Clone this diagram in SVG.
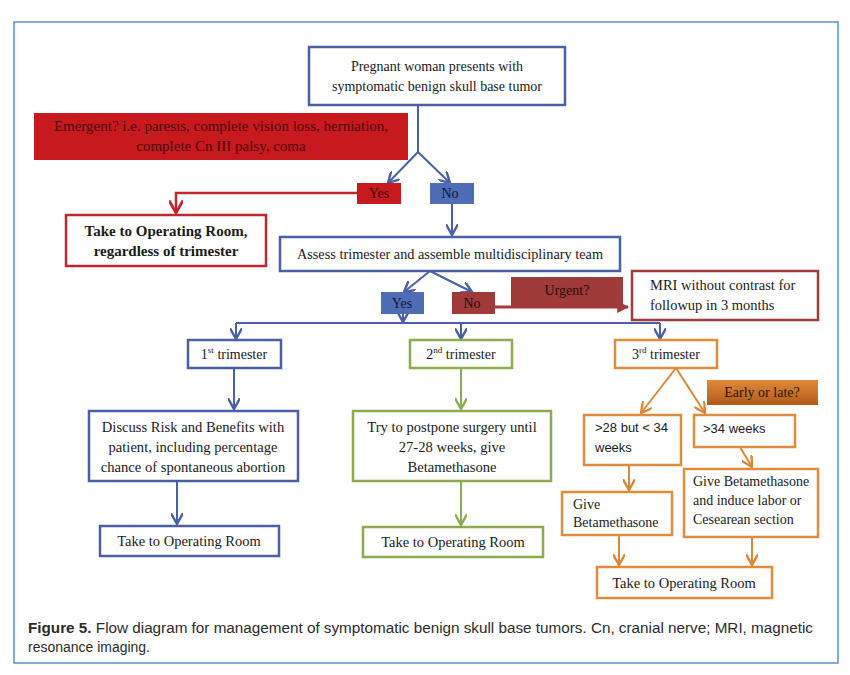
<svg xmlns="http://www.w3.org/2000/svg" width="850" height="675" viewBox="0 0 850 675">
<defs>
<style>
.t{font-family:"Liberation Serif","Times New Roman",serif;font-size:14px;fill:#1a1a1a}
.s{font-family:"Liberation Sans",Arial,sans-serif;font-size:13px;fill:#1a1a1a}
.c{text-anchor:middle}
.bl{fill:#fff;stroke:#4a5fa6;stroke-width:2.5}
.rd{fill:#fff;stroke:#c1272d;stroke-width:2.5}
.gr{fill:#fff;stroke:#8cab4f;stroke-width:2.5}
.or{fill:#fff;stroke:#df8c3e;stroke-width:2.5}
.lb{stroke:#4a5fa6;stroke-width:2;fill:none}
.lr{stroke:#c1272d;stroke-width:2.5;fill:none}
.lg{stroke:#8cab4f;stroke-width:2;fill:none}
.lo{stroke:#d9873a;stroke-width:2;fill:none}
.ld{stroke:#a33a3a;stroke-width:3;fill:none}
</style>
<marker id="ar" viewBox="0 0 10 10" refX="9" refY="5" markerWidth="14" markerHeight="14" orient="auto" markerUnits="userSpaceOnUse"><path d="M0,0 L9,5 L0,10" fill="none" stroke="#c1272d" stroke-width="2"/></marker>
<marker id="ab2" viewBox="0 0 10 10" refX="9" refY="5" markerWidth="12" markerHeight="12" orient="auto" markerUnits="userSpaceOnUse"><path d="M0,0 L9,5 L0,10" fill="none" stroke="#4a5fa6" stroke-width="2"/></marker>
<marker id="ag" viewBox="0 0 10 10" refX="9" refY="5" markerWidth="12" markerHeight="12" orient="auto" markerUnits="userSpaceOnUse"><path d="M0,0 L9,5 L0,10" fill="none" stroke="#8cab4f" stroke-width="2"/></marker>
<marker id="ao" viewBox="0 0 10 10" refX="9" refY="5" markerWidth="12" markerHeight="12" orient="auto" markerUnits="userSpaceOnUse"><path d="M0,0 L9,5 L0,10" fill="none" stroke="#d9873a" stroke-width="2"/></marker>
<marker id="ad" viewBox="0 0 10 10" refX="9" refY="5" markerWidth="12" markerHeight="12" orient="auto" markerUnits="userSpaceOnUse"><path d="M0,0 L10,5 L0,10 Z" fill="#a33a3a"/></marker>
<linearGradient id="og" x1="0" y1="0" x2="0" y2="1"><stop offset="0" stop-color="#e08a3a"/><stop offset="1" stop-color="#b05a1a"/></linearGradient>
</defs>
<rect x="0" y="0" width="850" height="675" fill="#fff"/>
<rect x="14" y="22" width="824" height="641" fill="none" stroke="#5b8ecb" stroke-width="1.5"/>

<g id="connectors">
<path class="lb" d="M418,105 V152 L450,183" marker-end="url(#ab2)"/>
<path class="lb" d="M418,152 L388,183" marker-end="url(#ab2)"/>
<path class="lr" d="M357,193 H176 V213" marker-end="url(#ar)"/>
<path class="lb" d="M452,204 V235" marker-end="url(#ab2)"/>
<path class="lb" d="M430,271 L404,292" marker-end="url(#ab2)"/>
<path class="lb" d="M430,271 L472,292" marker-end="url(#ab2)"/>
<path class="ld" d="M495,307 H628" marker-end="url(#ad)"/>
<path class="lb" d="M403,314 V322" marker-end="url(#ab2)"/>
<path class="lb" d="M236,323 H660"/>
<path class="lb" d="M236,323 V339" marker-end="url(#ab2)"/>
<path class="lb" d="M461,323 V339" marker-end="url(#ab2)"/>
<path class="lb" d="M660,323 V339" marker-end="url(#ab2)"/>
<path class="lb" d="M234,368 V409" marker-end="url(#ab2)" stroke-width="2.5"/>
<path class="lb" d="M177,481 V524" marker-end="url(#ab2)" stroke-width="2.5"/>
<path class="lg" d="M461,368 V409" marker-end="url(#ag)"/>
<path class="lg" d="M461,481 V525" marker-end="url(#ag)"/>
<path class="lo" d="M676,368 L641,413" marker-end="url(#ao)"/>
<path class="lo" d="M676,368 L705,413" marker-end="url(#ao)"/>
<path class="lo" d="M629,465 V490" marker-end="url(#ao)"/>
<path class="lo" d="M740,447 L752,467" marker-end="url(#ao)"/>
<path class="lo" d="M619,535 V565" marker-end="url(#ao)"/>
<path class="lo" d="M752,537 V565" marker-end="url(#ao)"/>
</g>

<g id="n_start">
<rect class="bl" x="309" y="47" width="256" height="58"/>
<text class="t c" x="437" y="71">Pregnant woman presents with</text>
<text class="t c" x="437" y="91">symptomatic benign skull base tumor</text>
</g>
<g id="n_emergent">
<rect x="34" y="113" width="374" height="47" fill="#c8191f"/>
<text class="t c" x="221" y="131" style="fill:#4a0c0c;font-size:15px">Emergent? i.e. paresis, complete vision loss, herniation,</text>
<text class="t c" x="221" y="151" style="fill:#4a0c0c;font-size:15px">complete Cn III palsy, coma</text>
</g>
<g id="n_yes1">
<rect x="357" y="183" width="44" height="21" fill="#c8191f"/>
<text class="t c" x="379" y="198" style="fill:#3a0a0a">Yes</text>
</g>
<g id="n_no1">
<rect x="430" y="183" width="44" height="21" fill="#4f6db4"/>
<text class="t c" x="450" y="198" style="fill:#10183a">No</text>
</g>
<g id="n_or_emerg">
<rect class="rd" x="66" y="215" width="200" height="51"/>
<text class="t c" x="166" y="236" style="font-weight:bold;font-size:15px">Take to Operating Room,</text>
<text class="t c" x="166" y="256" style="font-weight:bold;font-size:15px">regardless of trimester</text>
</g>
<g id="n_assess">
<rect class="bl" x="280" y="237" width="340" height="34"/>
<text class="t c" x="450" y="259" style="font-size:14.3px">Assess trimester and assemble multidisciplinary team</text>
</g>
<g id="n_yes2">
<rect x="381" y="292" width="43" height="22" fill="#4f6db4"/>
<text class="t c" x="402" y="308" style="fill:#10183a">Yes</text>
</g>
<g id="n_no2">
<rect x="452" y="292" width="43" height="22" fill="#9e3b38"/>
<text class="t c" x="472" y="308" style="fill:#2a0808">No</text>
</g>
<g id="n_urgent">
<rect x="511" y="277" width="112" height="29" fill="#9e3b38"/>
<text class="t c" x="567" y="295" style="fill:#2a0808">Urgent?</text>
</g>
<g id="n_mri">
<rect x="632" y="271" width="186" height="49" fill="#fff" stroke="#9e3b38" stroke-width="2.5"/>
<text class="t" x="650" y="290" style="font-size:14.5px">MRI without contrast for</text>
<text class="t" x="650" y="310" style="font-size:14.5px">followup in 3 months</text>
</g>
<g id="n_t1">
<rect class="bl" x="188" y="340" width="93" height="28"/>
<text class="t c" x="234" y="359">1<tspan dy="-6" font-size="9">st</tspan><tspan dy="6"> trimester</tspan></text>
</g>
<g id="n_t2">
<rect class="gr" x="410" y="340" width="102" height="28"/>
<text class="t c" x="461" y="359">2<tspan dy="-6" font-size="9">nd</tspan><tspan dy="6"> trimester</tspan></text>
</g>
<g id="n_t3">
<rect class="or" x="615" y="340" width="102" height="28"/>
<text class="t c" x="666" y="359">3<tspan dy="-6" font-size="9">rd</tspan><tspan dy="6"> trimester</tspan></text>
</g>
<g id="n_discuss">
<rect class="bl" x="89" y="411" width="209" height="70"/>
<text class="t c" x="193" y="432" style="font-size:14.6px">Discuss Risk and Benefits with</text>
<text class="t c" x="193" y="452" style="font-size:14.6px">patient, including percentage</text>
<text class="t c" x="193" y="472" style="font-size:14.6px">chance of spontaneous abortion</text>
</g>
<g id="n_or1">
<rect class="bl" x="100" y="526" width="179" height="30"/>
<text class="t c" x="189" y="546" style="font-size:14.5px">Take to Operating Room</text>
</g>
<g id="n_postpone">
<rect class="gr" x="353" y="411" width="198" height="70"/>
<text class="t c" x="452" y="432" style="font-size:14.6px">Try to postpone surgery until</text>
<text class="t c" x="452" y="452" style="font-size:14.6px">27-28 weeks, give</text>
<text class="t c" x="452" y="472" style="font-size:14.6px">Betamethasone</text>
</g>
<g id="n_or2">
<rect class="gr" x="363" y="527" width="180" height="30"/>
<text class="t c" x="453" y="547" style="font-size:14.5px">Take to Operating Room</text>
</g>
<g id="n_early">
<rect x="707" y="380" width="111" height="25" fill="url(#og)"/>
<text class="t c" x="762" y="397" style="fill:#2a1505">Early or late?</text>
</g>
<g id="n_28">
<rect class="or" x="584" y="415" width="97" height="50"/>
<text class="s" x="595" y="432">&gt;28 but &lt; 34</text>
<text class="s" x="595" y="452">weeks</text>
</g>
<g id="n_34">
<rect class="or" x="694" y="415" width="101" height="32"/>
<text class="s" x="703" y="433">&gt;34 weeks</text>
</g>
<g id="n_beta1">
<rect class="or" x="562" y="492" width="110" height="43"/>
<text class="t" x="573" y="509">Give</text>
<text class="t" x="573" y="527">Betamethasone</text>
</g>
<g id="n_beta2">
<rect class="or" x="684" y="469" width="134" height="68"/>
<text class="t" x="693" y="486">Give Betamethasone</text>
<text class="t" x="693" y="505">and induce labor or</text>
<text class="t" x="693" y="524">Cesearean section</text>
</g>
<g id="n_or3">
<rect class="or" x="597" y="567" width="175" height="31"/>
<text class="t c" x="684" y="588" style="font-size:14.5px">Take to Operating Room</text>
</g>

<g id="caption">
<text x="28" y="633" style="font-family:'Liberation Sans',Arial,sans-serif;font-size:14px;fill:#2a2a2a" textLength="785" lengthAdjust="spacingAndGlyphs"><tspan font-weight="bold">Figure 5.</tspan>  Flow diagram for management of symptomatic benign skull base tumors. Cn, cranial nerve; MRI, magnetic</text>
<text x="28" y="652" style="font-family:'Liberation Sans',Arial,sans-serif;font-size:14px;fill:#2a2a2a" textLength="122" lengthAdjust="spacingAndGlyphs">resonance imaging.</text>
</g>
</svg>
